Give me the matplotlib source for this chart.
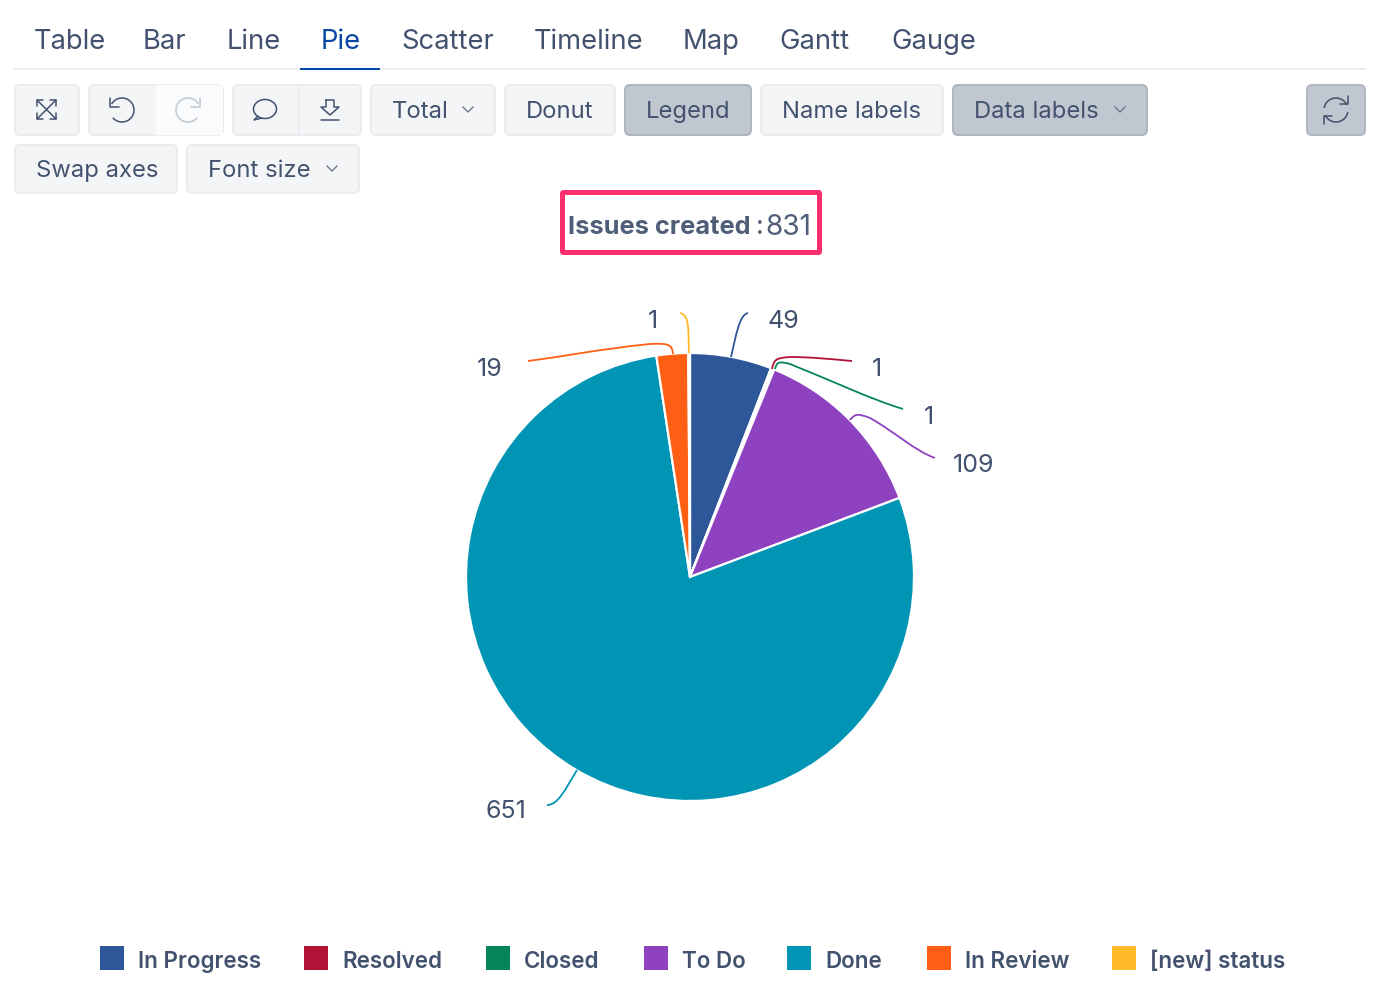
import matplotlib
matplotlib.use("Agg")
import matplotlib.pyplot as plt
from matplotlib.patches import FancyBboxPatch, Rectangle, Arc, PathPatch
from matplotlib.path import Path

W = 1388
H = 1006

statuses = ["In Progress", "Resolved", "Closed", "To Do", "Done", "In Review", "[new] status"]
issues = [49, 1, 1, 109, 651, 19, 1]
colors = ["#2D5799", "#B11236", "#068558", "#8E42C0", "#0095B5", "#FF5F15", "#FFB92A"]
tabs = ["Table", "Bar", "Line", "Pie", "Scatter", "Timeline", "Map", "Gantt", "Gauge"]
tab_x = [34, 143, 227, 321, 401, 534, 683, 779, 891]

TEXT = "#42526E"
LIGHT = "#F4F5F7"
LIGHT_EDGE = "#EBECF0"
DARK = "#C1C7D0"
DARK_EDGE = "#AEB5C1"

plt.rcParams["font.family"] = ["Inter", "DejaVu Sans"]


def px(size):
    return size * 0.72


fig = plt.figure(figsize=(W / 100, H / 100), dpi=100, facecolor="white")

# pie: centre 690,577 radius 224
r = 224
pie_ax = fig.add_axes([(690 - r) / W, 1 - (577 + r) / H, 2 * r / W, 2 * r / H])
pie_ax.pie(issues, colors=colors, startangle=90, counterclock=False, radius=1,
           wedgeprops={"edgecolor": "white", "linewidth": 1.6})
pie_ax.set_xlim(-1, 1)
pie_ax.set_ylim(-1, 1)

ax = fig.add_axes([0, 0, 1, 1], zorder=5)
ax.set_xlim(0, W)
ax.set_ylim(H, 0)
ax.axis("off")
ax.patch.set_alpha(0)


def button(x0, y0, x1, y1, label=None, dark=False, chevron=False, tx=None):
    face = DARK if dark else LIGHT
    edge = DARK_EDGE if dark else LIGHT_EDGE
    ax.add_patch(FancyBboxPatch((x0 + 1, y0 + 1), x1 - x0 - 2, y1 - y0 - 2,
                                boxstyle="round,pad=0,rounding_size=5",
                                fc=face, ec=edge, lw=1.4))
    if label:
        ax.text(tx if tx else x0 + 22, (y0 + y1) / 2 + 2, label, color=TEXT, fontsize=px(23.8),
                ha="left", va="center")
    if chevron:
        cx = x1 - 28
        cy = (y0 + y1) / 2
        ax.plot([cx - 5, cx, cx + 5], [cy - 3, cy + 2, cy - 3], color="#6B778C", lw=1.0)


def icon(points, color=TEXT, lw=1.1):
    xs, ys = zip(*points)
    ax.plot(xs, ys, color=color, lw=lw, solid_capstyle="round", solid_joinstyle="round")


# tabs
for name, x in zip(tabs, tab_x):
    ax.text(x, 42, name, fontsize=px(27.4), va="center", ha="left",
            color="#0747A6" if name == "Pie" else TEXT)
ax.add_patch(Rectangle((14, 68), 1352, 2, fc="#EBECF0", ec="none"))
ax.add_patch(Rectangle((300, 68), 80, 2, fc="#0747A6", ec="none"))

# toolbar
button(14, 84, 80, 136)
button(88, 84, 224, 136)
ax.add_patch(Rectangle((156, 85), 67, 50, fc="#FAFBFC", ec="none"))
button(232, 84, 362, 136)
ax.plot([299, 299], [85, 135], color=LIGHT_EDGE, lw=1.4)
button(370, 84, 496, 136, "Total", chevron=True)
button(504, 84, 616, 136, "Donut")
button(624, 84, 752, 136, "Legend", dark=True)
button(760, 84, 944, 136, "Name labels")
button(952, 84, 1148, 136, "Data labels", dark=True, chevron=True)
button(1306, 84, 1366, 136, dark=True)
button(14, 144, 178, 194, "Swap axes")
button(186, 144, 360, 194, "Font size", chevron=True)

# expand icon
icon([(37, 100), (56, 119)])
icon([(56, 100), (37, 119)])
for a, b, c in [((37, 106), (37, 100), (43, 100)), ((50, 100), (56, 100), (56, 106)),
                ((37, 113), (37, 119), (43, 119)), ((50, 119), (56, 119), (56, 113))]:
    icon([a, b, c])

# undo / redo
ax.add_patch(Arc((122, 110), 24, 24, theta1=-150, theta2=140, ec=TEXT, lw=1.1))
icon([(110, 98), (110, 107), (119, 107)])
ax.add_patch(Arc((188, 110), 24, 24, theta1=40, theta2=330, ec="#C1C7D0", lw=1.1))
icon([(200, 98), (200, 107), (191, 107)], color="#C1C7D0")

# comment
ax.add_patch(Arc((265, 109), 23, 19, ec=TEXT, lw=1.1))
icon([(258, 116), (254, 120), (262, 118)])

# download
icon([(326, 100), (334, 100), (334, 107), (339, 107), (330, 115), (321, 107), (326, 107), (326, 100)])
icon([(321, 120), (339, 120)])

# refresh
ax.add_patch(Arc((1336, 110), 24, 24, theta1=190, theta2=335, ec=TEXT, lw=1.1))
ax.add_patch(Arc((1336, 110), 24, 24, theta1=10, theta2=155, ec=TEXT, lw=1.1))
icon([(1348, 96), (1348, 104), (1340, 104)])
icon([(1324, 124), (1324, 116), (1332, 116)])

# title box
ax.add_patch(FancyBboxPatch((562.5, 192.5), 257, 60, boxstyle="round,pad=0,rounding_size=1",
                            fc="white", ec="#FF2F6E", lw=3.6))
ax.text(568, 227, "Issues created", fontsize=px(25.4), fontweight="bold", color="#505F79",
        va="center", ha="left")
ax.text(756, 227, ":", fontsize=px(27), color="#505F79", va="center", ha="left")
ax.text(765, 227, str(sum(issues)), fontsize=px(28), color="#505F79", va="center", ha="left")

# data labels, same order as issues
label_pos = [(783, 322), (877, 370), (929, 418), (974, 466), (506, 812), (490, 370), (653, 322)]
for value, (x, y) in zip(issues, label_pos):
    ax.text(x, y, str(value), fontsize=px(25), color=TEXT, ha="center", va="center")

# leader lines
leaders = [
    [(731, 357), (736, 336), (739, 315), (748, 313)],
    [(772, 369), (774, 360), (775, 358), (790, 357), (810, 357), (830, 359), (852, 361)],
    [(775, 369), (777, 362), (778, 361), (790, 364), (830, 380), (870, 399), (903, 409)],
    [(850, 420), (855, 414), (857, 413), (870, 418), (895, 432), (915, 451), (935, 458)],
    [(577, 770), (565, 790), (558, 805), (547, 805)],
    [(673, 354), (672, 345), (670, 343), (650, 344), (600, 349), (560, 357), (528, 361)],
    [(689, 353), (688, 330), (690, 315), (680, 313)],
]
for pts, color in zip(leaders, colors):
    codes = [Path.MOVETO] + [Path.CURVE4] * (len(pts) - 1)
    ax.add_patch(PathPatch(Path(pts, codes), fc="none", ec=color, lw=1.3))

# legend
legend_x = [100, 304, 486, 644, 787, 927, 1112]
for name, color, x in zip(statuses, colors, legend_x):
    ax.add_patch(Rectangle((x, 946), 24, 24, fc=color, ec="none"))
    ax.text(x + 38, 962, name, fontsize=px(22.4), fontweight="semibold", color=TEXT,
            va="center", ha="left")

fig.savefig("out.png", dpi=100)
